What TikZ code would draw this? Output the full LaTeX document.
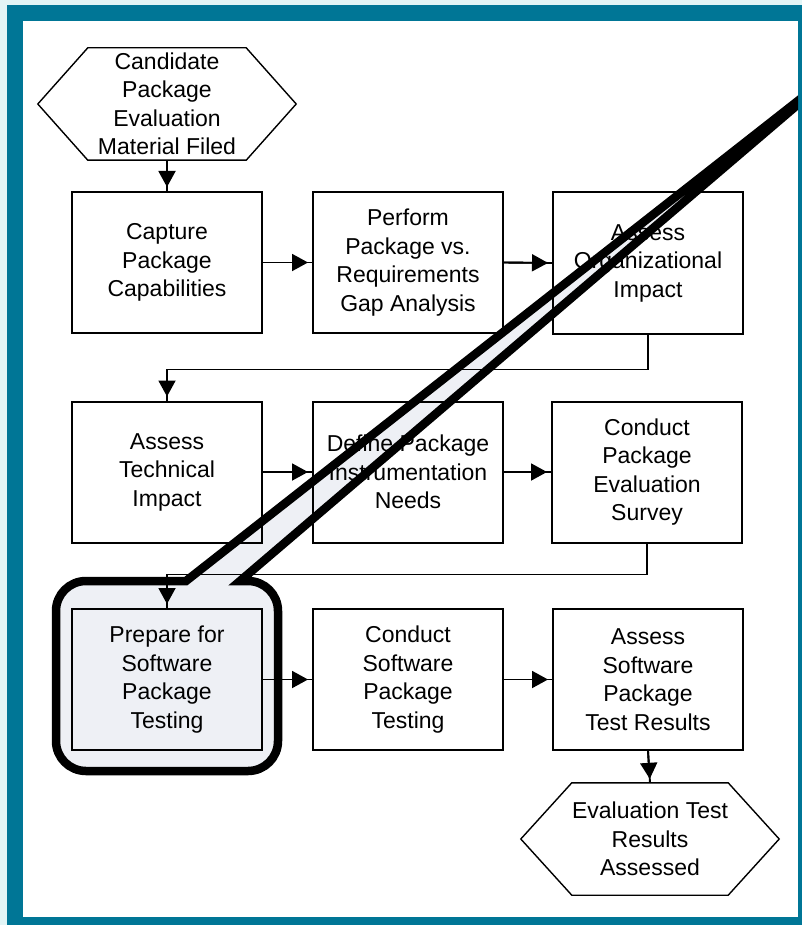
\documentclass[tikz,border=0pt]{standalone}
\usepackage{fontspec}
\setmainfont{Liberation Sans}
\usetikzlibrary{arrows.meta}
\definecolor{framebg}{RGB}{226,245,246}
\definecolor{frameteal}{RGB}{0,118,150}
\definecolor{calloutfill}{RGB}{238,240,245}

\begin{document}
\begin{tikzpicture}[x=1pt,y=-1pt,
  every node/.style={font=\fontsize{23pt}{28.5pt}\selectfont, align=center, inner sep=0pt, text=black},
  stepbox/.style={draw, line width=2pt, minimum width=190pt, minimum height=141pt, fill=white},
  hexarea/.style={minimum width=258pt, minimum height=112pt},
  hexline/.style={line width=1.4pt, line join=miter},
  flow/.style={line width=1.9pt,
    postaction={draw, shorten >=4pt, -{Triangle[length=16pt,width=17pt]}}},
  calloutline/.style={draw=black, line width=8.5pt, line join=miter}
]
\useasboundingbox (0,0) rectangle (802,925);

% frame
\fill[framebg] (0,0) rectangle (802,925);
\fill[frameteal] (7,5) rectangle (802,925);
\fill[white] (23,21) rectangle (798,917);

% start event
\node[hexarea] (filed) at (167,104) {Candidate\\Package\\Evaluation\\Material Filed};
\draw[hexline] (filed.west) -- ([xshift=50pt]filed.north west) -- ([xshift=-50pt]filed.north east)
  -- (filed.east) -- ([xshift=-50pt]filed.south east) -- ([xshift=50pt]filed.south west) -- cycle;

% row 1
\node[stepbox] (cap) at (167,262.5) {Capture\\Package\\Capabilities};
\node[stepbox] (gap) at (408,262.5) {Perform\\Package vs.\\Requirements\\Gap Analysis};
\node[stepbox] (org) at (648,263) {Assess\\Organizational\\Impact};

% row 2
\node[stepbox] (tech) at (167,472) {Assess\\Technical\\Impact};
\node[stepbox] (instr) at (408,472) {Define Package\\Instrumentation\\Needs};
\node[stepbox] (survey) at (647,472) {Conduct\\Package\\Evaluation\\Survey};

% row 3
\node[stepbox] (prep) at (167,679.5) {Prepare for\\Software\\Package\\Testing};
\node[stepbox] (swtest) at (408,679.5) {Conduct\\Software\\Package\\Testing};
\node[stepbox] (results) at (648,679.5) {Assess\\Software\\Package\\Test Results};

% end event
\node[hexarea] (assessed) at (650,839) {Evaluation Test\\Results\\Assessed};
\draw[hexline] (assessed.west) -- ([xshift=51pt]assessed.north west) -- ([xshift=-51pt]assessed.north east)
  -- (assessed.east) -- ([xshift=-51pt]assessed.south east) -- ([xshift=51pt]assessed.south west) -- cycle;

% flow connectors
\draw[flow] (filed.south) -- (cap.north);
\draw[flow] (cap.east) -- (gap.west);
\draw[flow] (gap.east) -- (org.west);
\draw[flow] (org.south) -- ++(0,35) -| (tech.north);
\draw[flow] (tech.east) -- (instr.west);
\draw[flow] (instr.east) -- (survey.west);
\draw[flow] (survey.south) -- ++(0,31) -| (prep.north);
\draw[flow] (prep.east) -- (swtest.west);
\draw[flow] (swtest.east) -- (results.west);
\draw[flow] (results.south) -- (assessed.north);

% zoom callout around the highlighted step
\begin{scope}
  \clip (23,21) rectangle (798,917);
  \def\calloutpath{(186,581) -- (850,60) -- (240,581) -- (248,581)
    .. controls (264.6,581) and (278,594.4) .. (278,611) -- (278,741)
    .. controls (278,757.6) and (264.6,771) .. (248,771) -- (86,771)
    .. controls (69.4,771) and (56,757.6) .. (56,741) -- (56,611)
    .. controls (56,594.4) and (69.4,581) .. (86,581) -- cycle}
  \fill[calloutfill, blend mode=multiply] \calloutpath;
  \draw[calloutline] \calloutpath;
\end{scope}
\end{tikzpicture}
\end{document}
